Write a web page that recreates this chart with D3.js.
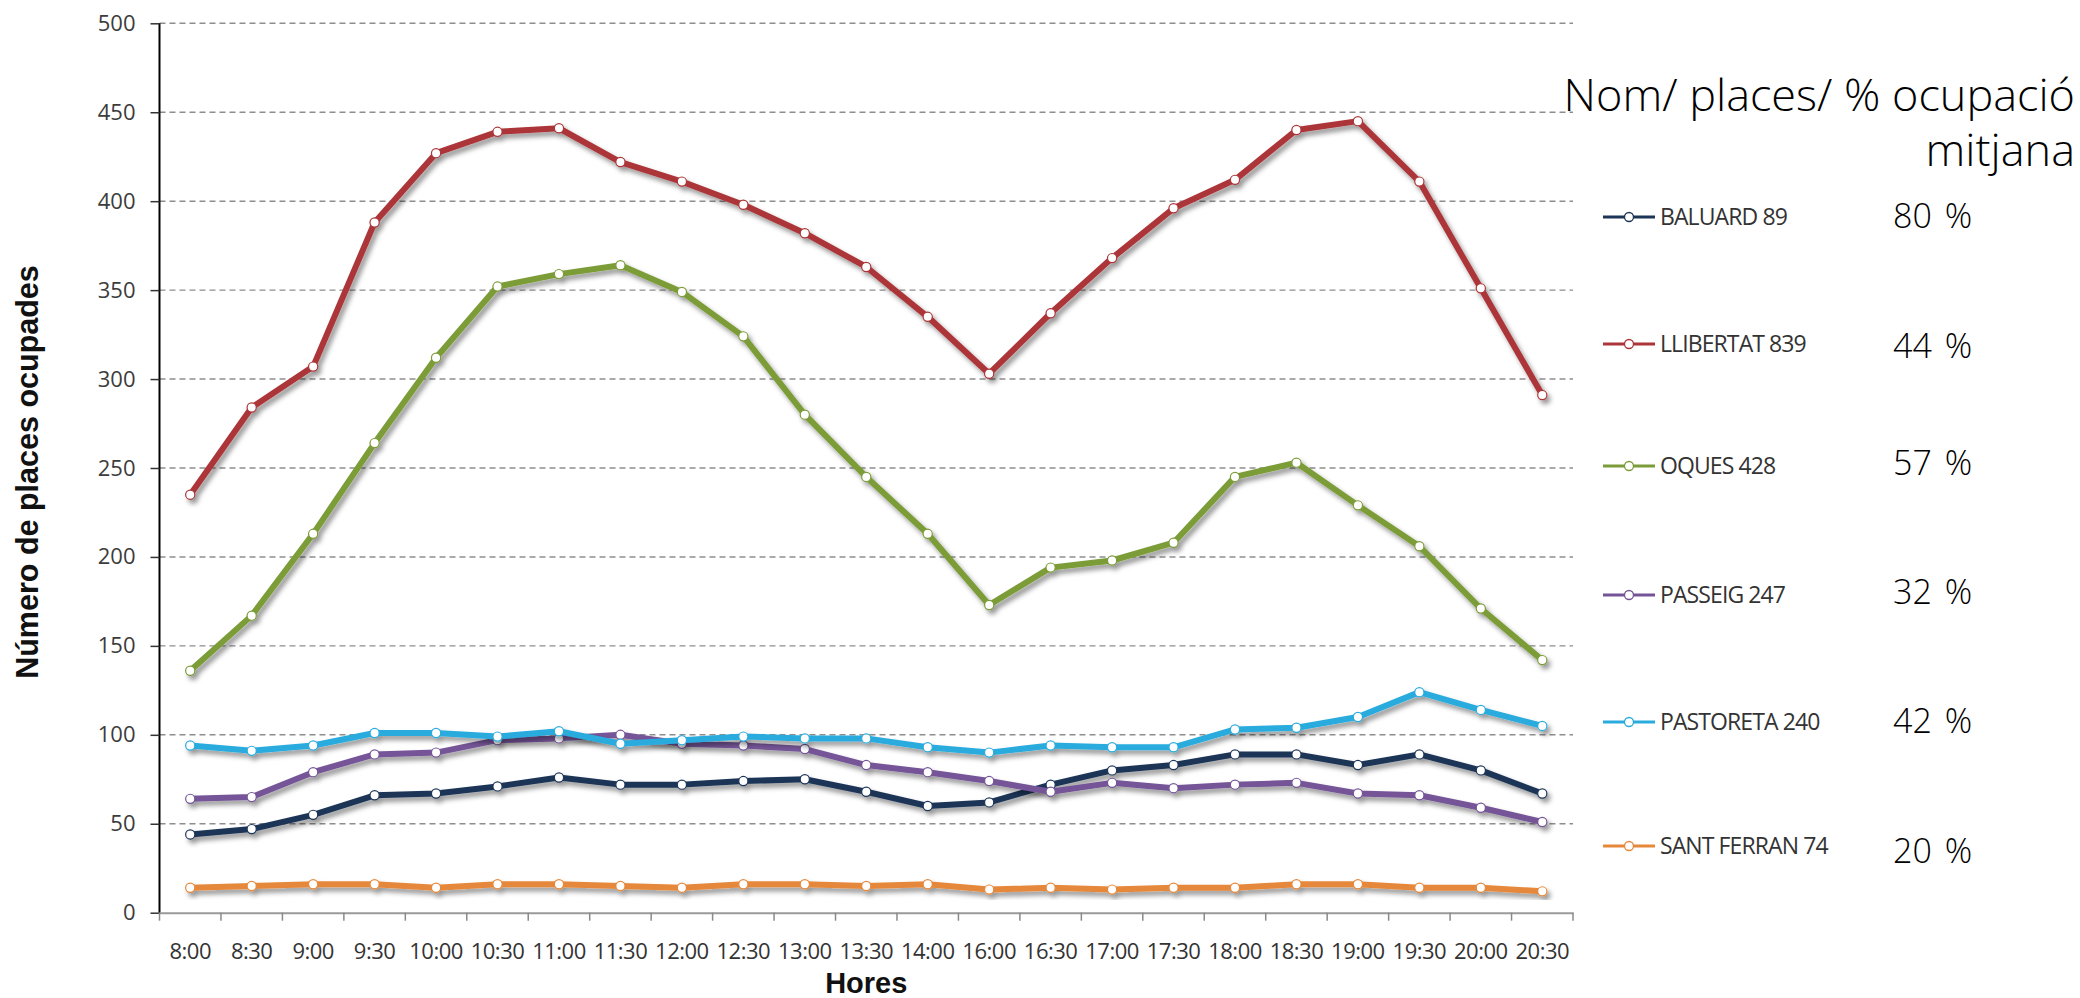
<!DOCTYPE html>
<html>
<head>
<meta charset="utf-8">
<script src="https://cdn.jsdelivr.net/npm/d3@7"></script>
<style>
  html, body { margin: 0; padding: 0; background: #ffffff; }
  svg { display: block; }
</style>
</head>
<body>
<svg id="chart" width="2080" height="998"></svg>
<script>
// Occupied parking places per half hour, by car park
const hours = ["8:00","8:30","9:00","9:30","10:00","10:30","11:00","11:30","12:00","12:30","13:00","13:30","14:00","16:00","16:30","17:00","17:30","18:00","18:30","19:00","19:30","20:00","20:30"];

const baluard    = [44, 47, 55, 66, 67, 71, 76, 72, 72, 74, 75, 68, 60, 62, 72, 80, 83, 89, 89, 83, 89, 80, 67];
const llibertat  = [235, 284, 307, 388, 427, 439, 441, 422, 411, 398, 382, 363, 335, 303, 337, 368, 396, 412, 440, 445, 411, 351, 291];
const oques      = [136, 167, 213, 264, 312, 352, 359, 364, 349, 324, 280, 245, 213, 173, 194, 198, 208, 245, 253, 229, 206, 171, 142];
const passeig    = [64, 65, 79, 89, 90, 97, 98, 100, 95, 94, 92, 83, 79, 74, 68, 73, 70, 72, 73, 67, 66, 59, 51];
const pastoreta  = [94, 91, 94, 101, 101, 99, 102, 95, 97, 99, 98, 98, 93, 90, 94, 93, 93, 103, 104, 110, 124, 114, 105];
const santFerran = [14, 15, 16, 16, 14, 16, 16, 15, 14, 16, 16, 15, 16, 13, 14, 13, 14, 14, 16, 16, 14, 14, 12];

const seriesNames = ["BALUARD 89", "LLIBERTAT 839", "OQUES 428", "PASSEIG 247", "PASTORETA 240", "SANT FERRAN 74"];
const seriesValues = [baluard, llibertat, oques, passeig, pastoreta, santFerran];
const seriesColors = ["#1c3557", "#ab3538", "#7b9c38", "#745497", "#29abde", "#e6883a"];
const occupancy = ["80 %", "44 %", "57 %", "32 %", "42 %", "20 %"];

const yTicks = [0, 50, 100, 150, 200, 250, 300, 350, 400, 450, 500];

const legendTitle = ["Nom/ places/ % ocupació", "mitjana"];
const yTitle = "Número de places ocupades";
const xTitle = "Hores";

// ---- layout ----
const plotLeft = 159.5, plotRight = 1573, plotTop = 23.3, plotBottom = 912.7;
const svg = d3.select("#chart");

const x = d3.scaleBand().domain(hours).range([plotLeft, plotRight]).paddingInner(0).paddingOuter(0);
const y = d3.scaleLinear().domain([0, 500]).range([plotBottom, plotTop]);
const cx = h => x(h) + x.bandwidth() / 2;

// drop shadow under the lines
const defs = svg.append("defs");
const f = defs.append("filter").attr("id", "shadow")
  .attr("x", "-5%").attr("y", "-10%").attr("width", "115%").attr("height", "130%");
f.append("feDropShadow").attr("dx", 3).attr("dy", 4).attr("stdDeviation", 2.4)
  .attr("flood-color", "#000").attr("flood-opacity", 0.42);

// horizontal dashed gridlines
svg.append("g").selectAll("line")
  .data(yTicks.filter(t => t > 0))
  .join("line")
  .attr("x1", plotLeft).attr("x2", plotRight)
  .attr("y1", d => y(d)).attr("y2", d => y(d))
  .attr("stroke", "#8e8e8e").attr("stroke-width", 1.4)
  .attr("stroke-dasharray", "6,4");

// y axis
const yAxis = svg.append("g")
  .attr("transform", `translate(${plotLeft},0)`)
  .call(d3.axisLeft(y).tickValues(yTicks).tickSize(9).tickPadding(15));
yAxis.select(".domain").attr("stroke", "#000").attr("stroke-width", 2)
  .attr("d", `M0,${plotBottom}V${plotTop}`);
yAxis.selectAll(".tick line").attr("stroke", "#333").attr("stroke-width", 1.5);
yAxis.selectAll(".tick text")
  .attr("font-family", "'Open Sans', sans-serif").attr("font-size", 22)
  .attr("fill", "#3c3c3c");

// x axis
const xAxis = svg.append("g")
  .attr("transform", `translate(0,${plotBottom})`)
  .call(d3.axisBottom(x).tickSize(0).tickPadding(31));
xAxis.select(".domain").attr("stroke", "#9a9a9a").attr("stroke-width", 2);
xAxis.selectAll(".tick text")
  .attr("font-family", "'Open Sans', sans-serif").attr("font-size", 22)
  .attr("letter-spacing", -0.5)
  .attr("fill", "#333");
// tick marks on category boundaries
const edges = hours.map(h => x(h)).concat([plotRight]);
svg.append("g").selectAll("line").data(edges).join("line")
  .attr("x1", d => d).attr("x2", d => d)
  .attr("y1", plotBottom).attr("y2", plotBottom + 8)
  .attr("stroke", "#8a8a8a").attr("stroke-width", 1.5);

// series lines and markers
const line = d3.line().x((d, i) => cx(hours[i])).y(d => y(d));
seriesValues.forEach((vals, s) => {
  const g = svg.append("g").attr("filter", "url(#shadow)");
  g.append("path").datum(vals)
    .attr("d", line)
    .attr("fill", "none")
    .attr("stroke", seriesColors[s])
    .attr("stroke-width", 6)
    .attr("stroke-linejoin", "round");
  g.selectAll("circle").data(vals).join("circle")
    .attr("cx", (d, i) => cx(hours[i]))
    .attr("cy", d => y(d))
    .attr("r", 4.6)
    .attr("fill", "#ffffff")
    .attr("stroke", seriesColors[s])
    .attr("stroke-width", 1.2);
});

// axis titles
svg.append("text")
  .attr("transform", `translate(38,${(plotTop + plotBottom) / 2 + 4}) rotate(-90)`)
  .attr("text-anchor", "middle")
  .attr("font-family", "'Liberation Sans', Arial, sans-serif")
  .attr("font-weight", "bold").attr("font-size", 30.5)
  .attr("fill", "#111")
  .text(yTitle);

svg.append("text")
  .attr("x", (plotLeft + plotRight) / 2).attr("y", 993)
  .attr("text-anchor", "middle")
  .attr("font-family", "'Liberation Sans', Arial, sans-serif")
  .attr("font-weight", "bold").attr("font-size", 29)
  .attr("fill", "#111")
  .text(xTitle);

// legend heading
svg.append("g").selectAll("text").data(legendTitle).join("text")
  .attr("x", 2075)
  .attr("y", (d, i) => 111 + i * 55)
  .attr("text-anchor", "end")
  .attr("font-family", "'Open Sans', sans-serif")
  .attr("font-weight", 300).attr("font-size", 45)
  .attr("fill", "#000")
  .text(d => d);

// legend entries with average occupancy
const legendY = [217, 344, 466, 595, 722, 846];
const pctBase = [228, 358, 475, 604, 733, 863];
const lg = svg.append("g");
seriesNames.forEach((name, s) => {
  const ly = legendY[s];
  lg.append("line")
    .attr("x1", 1603).attr("x2", 1655).attr("y1", ly).attr("y2", ly)
    .attr("stroke", seriesColors[s]).attr("stroke-width", 3);
  lg.append("circle")
    .attr("cx", 1629).attr("cy", ly).attr("r", 4.5)
    .attr("fill", "#fff").attr("stroke", seriesColors[s]).attr("stroke-width", 1.3);
  lg.append("text")
    .attr("x", 1660).attr("y", ly + 8)
    .attr("font-family", "'Open Sans', sans-serif")
    .attr("font-size", 23).attr("letter-spacing", -0.9)
    .attr("fill", "#333")
    .text(name);
  lg.append("text")
    .attr("x", 1893).attr("y", pctBase[s])
    .attr("font-family", "'Open Sans', sans-serif")
    .attr("font-weight", 300).attr("font-size", 34)
    .attr("word-spacing", 4)
    .attr("fill", "#000")
    .text(occupancy[s]);
});
</script>
</body>
</html>
